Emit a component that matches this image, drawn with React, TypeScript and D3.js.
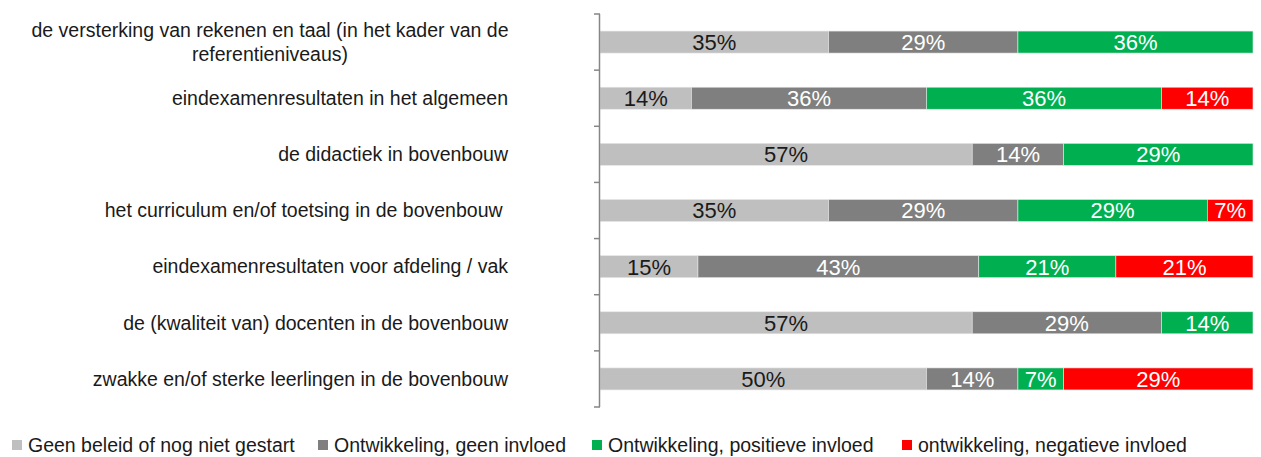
import React from "react";
import * as d3 from "d3";

const categories = [
  ["de versterking van rekenen en taal (in het kader van de", "referentieniveaus)"],
  ["eindexamenresultaten in het algemeen"],
  ["de didactiek in bovenbouw"],
  ["het curriculum en/of toetsing in de bovenbouw "],
  ["eindexamenresultaten voor afdeling / vak"],
  ["de (kwaliteit van) docenten in de bovenbouw"],
  ["zwakke en/of sterke leerlingen in de bovenbouw"],
];

const seriesNames = [
  "Geen beleid of nog niet gestart",
  "Ontwikkeling, geen invloed",
  "Ontwikkeling, positieve invloed",
  "ontwikkeling, negatieve invloed",
];
const seriesColors = ["#BFBFBF", "#7F7F7F", "#00B050", "#FF0000"];
const labelColors = ["#1a1a1a", "#ffffff", "#ffffff", "#ffffff"];

const geenBeleid = [35, 14, 57, 35, 15, 57, 50];
const geenInvloed = [29, 36, 14, 29, 43, 29, 14];
const positief = [36, 36, 29, 29, 21, 14, 7];
const negatief = [0, 14, 0, 7, 21, 0, 29];

const series = [geenBeleid, geenInvloed, positief, negatief];

const W = 1261;
const H = 457;
const FONT = "'Liberation Sans', Arial, sans-serif";

export default function App() {
  const keys = categories.map((_, i) => String(i));
  const x = d3.scaleLinear().domain([0, 100]).range([600, 1253]);
  const y = d3
    .scaleBand<string>()
    .domain(keys)
    .range([14, 407])
    .paddingInner(0.608)
    .paddingOuter(0.304);
  const step = y.step();

  const rows = keys.map((k, i) => {
    let acc = 0;
    return series.map((s, si) => {
      const v = s[i];
      const x0 = acc;
      acc += v;
      return { k, si, v, x0, x1: acc };
    });
  });

  const legendX = [12, 318, 592, 902];

  return (
    <svg
      width={W}
      height={H}
      style={{ position: "absolute", left: 0, top: 0, background: "#fff" }}
      fontFamily={FONT}
    >
      {/* bars */}
      {rows.map((segs, i) => (
        <g key={i}>
          {segs
            .filter((d) => d.v > 0)
            .map((d) => {
              const bx = x(d.x0);
              const bw = x(d.x1) - x(d.x0);
              const by = y(d.k)!;
              const bh = y.bandwidth();
              return (
                <g key={d.si}>
                  <rect
                    x={bx}
                    y={by}
                    width={bw}
                    height={bh}
                    fill={seriesColors[d.si]}
                    stroke="#e6e6e6"
                    strokeWidth={0.6}
                  />
                  <text
                    x={bx + bw / 2}
                    y={by + bh / 2}
                    dy="0.36em"
                    textAnchor="middle"
                    fontSize={22}
                    fill={labelColors[d.si]}
                  >
                    {d.v}%
                  </text>
                </g>
              );
            })}
        </g>
      ))}

      {/* axis */}
      <line x1={599.5} x2={599.5} y1={14} y2={407} stroke="#868686" strokeWidth={1.5} />
      {d3.range(keys.length + 1).map((i) => (
        <line
          key={i}
          x1={594}
          x2={600}
          y1={14 + i * step}
          y2={14 + i * step}
          stroke="#868686"
          strokeWidth={1.5}
        />
      ))}

      {/* category labels */}
      {categories.map((lines, i) => {
        const cy = y(keys[i])! + y.bandwidth() / 2;
        if (lines.length > 1) {
          const lh = 24;
          const top = cy - ((lines.length - 1) * lh) / 2;
          return (
            <text key={i} fontSize={19.5} fill="#1a1a1a" textAnchor="middle">
              {lines.map((ln, j) => (
                <tspan key={j} x={270} y={top + j * lh} dy="0.35em">
                  {ln}
                </tspan>
              ))}
            </text>
          );
        }
        return (
          <text
            key={i}
            x={508}
            y={cy}
            dy="0.35em"
            fontSize={19.5}
            fill="#1a1a1a"
            textAnchor="end"
            xmlSpace="preserve"
            style={{ whiteSpace: "pre" }}
          >
            {lines[0]}
          </text>
        );
      })}

      {/* legend */}
      {seriesNames.map((n, i) => (
        <g key={i}>
          <rect x={legendX[i]} y={440} width={10} height={10} fill={seriesColors[i]} />
          <text x={legendX[i] + 16} y={445} dy="0.36em" fontSize={19.5} fill="#1a1a1a">
            {n}
          </text>
        </g>
      ))}
    </svg>
  );
}
